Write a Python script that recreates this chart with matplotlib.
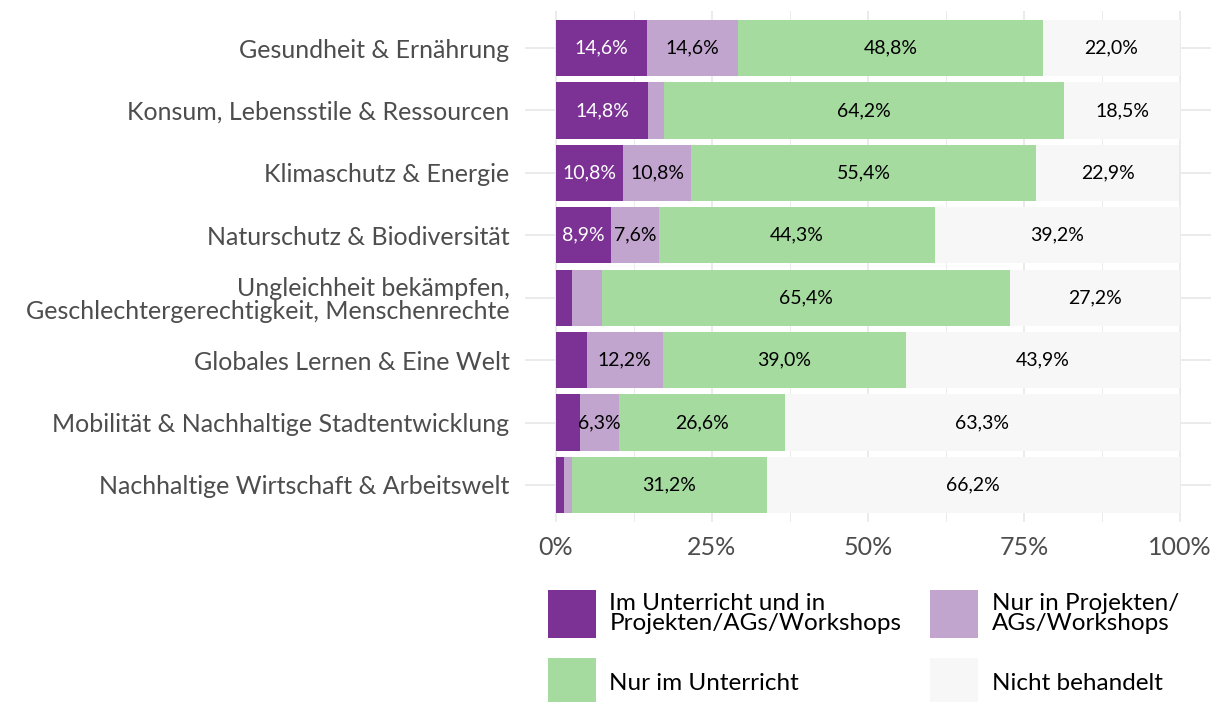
import numpy as np
import matplotlib.pyplot as plt
from matplotlib.patches import Patch

categories = [
    "Gesundheit & Ernährung",
    "Konsum, Lebensstile & Ressourcen",
    "Klimaschutz & Energie",
    "Naturschutz & Biodiversität",
    "Ungleichheit bekämpfen,\nGeschlechtergerechtigkeit, Menschenrechte",
    "Globales Lernen & Eine Welt",
    "Mobilität & Nachhaltige Stadtentwicklung",
    "Nachhaltige Wirtschaft & Arbeitswelt",
]
beides = [14.6, 14.8, 10.8, 8.9, 2.5, 4.9, 3.8, 1.3]
nur_projekte = [14.6, 2.5, 10.8, 7.6, 4.9, 12.2, 6.3, 1.3]
nur_unterricht = [48.8, 64.2, 55.4, 44.3, 65.4, 39.0, 26.6, 31.2]
nicht = [22.0, 18.5, 22.9, 39.2, 27.2, 43.9, 63.3, 66.2]

series = [beides, nur_projekte, nur_unterricht, nicht]
labels = ["Im Unterricht und in\nProjekten/AGs/Workshops", "Nur in Projekten/\nAGs/Workshops",
          "Nur im Unterricht", "Nicht behandelt"]
colors = ["#7B3294", "#C2A5CF", "#A6DBA0", "#F7F7F7"]
text_colors = ["white", "black", "black", "black"]

plt.rcParams['font.family'] = ['Lato', 'DejaVu Sans']

fig = plt.figure(figsize=(12.19, 7.02), dpi=100)
ax = fig.add_axes([0.4305, 0.2558, 0.5629, 0.7291])

y = np.arange(len(categories))
left = np.zeros(len(categories))
for vals, col, tc in zip(series, colors, text_colors):
    vals = np.array(vals)
    ax.barh(y, vals, left=left, height=0.9, color=col, zorder=2)
    for yi, l, v in zip(y, left, vals):
        if v >= 5:
            ax.text(l + v / 2, yi, f"{v:.1f}".replace('.', ',') + '%', ha='center', va='center',
                    color=tc, fontsize=14, zorder=3)
    left += vals

ax.set_xlim(-5, 105)
ax.set_ylim(len(categories) - 0.4, -0.6)
ax.set_xticks([0, 25, 50, 75, 100])
ax.set_xticklabels(["0%", "25%", "50%", "75%", "100%"])
ax.set_xticks([12.5, 37.5, 62.5, 87.5], minor=True)
ax.set_yticks(y)
ax.set_yticklabels(categories, linespacing=1.0)
ax.grid(True, which='major', color='#EBEBEB', linewidth=1.4, zorder=0)
ax.grid(True, which='minor', axis='x', color='#EBEBEB', linewidth=0.7, zorder=0)
for s in ax.spines.values():
    s.set_visible(False)
ax.tick_params(axis='both', which='both', length=0, labelsize=18, labelcolor='#4D4D4D')
ax.tick_params(axis='y', pad=11)
ax.tick_params(axis='x', pad=10)

handles = [Patch(facecolor=c, edgecolor='none') for c in colors]
order = [0, 2, 1, 3]
fs = 17.5
key = 48 * 72 / 100 / fs
leg = fig.legend([handles[i] for i in order], [labels[i] for i in order], ncol=2,
                 loc='upper left', bbox_to_anchor=(0.4495, 0.159), frameon=False,
                 fontsize=fs, handlelength=key, handleheight=(key - 0.245) / 0.65,
                 handletextpad=0.55, labelspacing=0.82, columnspacing=1.2,
                 borderaxespad=0, borderpad=0)
for t in leg.get_texts():
    t.set_linespacing(0.95)

fig.savefig("out.png", dpi=100)
